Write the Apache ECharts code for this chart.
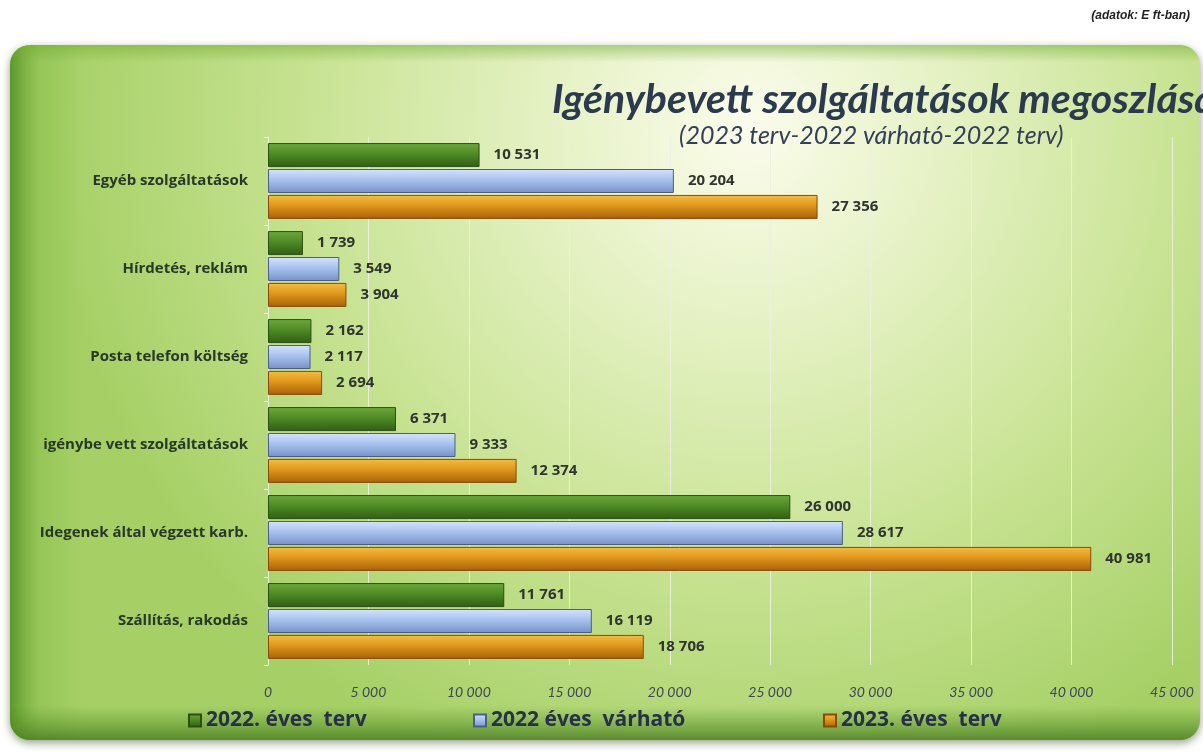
<!DOCTYPE html>
<html>
<head>
<meta charset="utf-8">
<script src="https://cdn.jsdelivr.net/npm/echarts@6/dist/echarts.min.js"></script>
<style>
    html, body { margin: 0; padding: 0; background: #fff; }
    #chart { width: 1203px; height: 755px; }
</style>
</head>
<body>
<div id="chart"></div>
<script>
    // kategóriák felülről lefelé
    var categories = ['Egyéb szolgáltatások', 'Hírdetés, reklám', 'Posta telefon költség',
        'igénybe vett szolgáltatások', 'Idegenek által végzett karb.', 'Szállítás, rakodás'];
    var seriesNames = ['2022. éves  terv', '2022 éves  várható', '2023. éves  terv'];
    var terv2022 = [10531, 1739, 2162, 6371, 26000, 11761];
    var varhato2022 = [20204, 3549, 2117, 9333, 28617, 16119];
    var terv2023 = [27356, 3904, 2694, 12374, 40981, 18706];
    var xTicks = [0, 5000, 10000, 15000, 20000, 25000, 30000, 35000, 40000, 45000];

    function fmt(v) {
        return String(v).replace(/\B(?=(\d{3})+(?!\d))/g, ' ');
    }

    function grad(c1, c2, c3) {
        return new echarts.graphic.LinearGradient(0, 0, 0, 1, [
            {offset: 0, color: c1}, {offset: 0.45, color: c2}, {offset: 1, color: c3}
        ]);
    }

    var myChart = echarts.init(document.getElementById('chart'));

    var labelStyle = {
        show: true,
        position: 'right',
        distance: 14,
        color: '#2f3430',
        fontFamily: 'Open Sans',
        fontWeight: 'bold',
        fontSize: 15,
        formatter: function (p) { return fmt(p.value); }
    };

    var legendText = {fontFamily: 'Open Sans', fontWeight: 'bold', fontSize: 21, color: '#26304a'};
    var legendPos = [183, 468, 818];

    var panel = {x: 10, y: 45, width: 1190, height: 695, r: 20};

    var option = {
        textStyle: {fontFamily: 'Lato'},
        graphic: [{
            type: 'rect',
            z: -10,
            shape: panel,
            style: {
                fill: new echarts.graphic.RadialGradient(0.62, 0.12, 1.0, [
                    {offset: 0, color: '#fbfcec'},
                    {offset: 0.3, color: '#e4f1c2'},
                    {offset: 0.65, color: '#c6e290'},
                    {offset: 1, color: '#a6d066'}
                ]),
                shadowBlur: 8,
                shadowColor: 'rgba(40,70,10,0.5)',
                shadowOffsetY: 3
            }
        }, {
            // bal oldali sötétebb sáv
            type: 'rect',
            z: -9,
            shape: panel,
            style: {
                fill: new echarts.graphic.LinearGradient(0, 0, 1, 0, [
                    {offset: 0, color: 'rgba(80,140,30,0.85)'},
                    {offset: 0.025, color: 'rgba(120,180,60,0.35)'},
                    {offset: 0.06, color: 'rgba(120,180,60,0)'},
                    {offset: 1, color: 'rgba(120,180,60,0)'}
                ])
            }
        }, {
            // alsó és felső él
            type: 'rect',
            z: -9,
            shape: panel,
            style: {
                fill: new echarts.graphic.LinearGradient(0, 0, 0, 1, [
                    {offset: 0, color: 'rgba(110,170,50,0.5)'},
                    {offset: 0.025, color: 'rgba(110,170,50,0)'},
                    {offset: 0.95, color: 'rgba(90,150,40,0)'},
                    {offset: 1, color: 'rgba(70,120,30,0.8)'}
                ])
            }
        }],
        title: [{
            text: '(adatok: E ft-ban)',
            right: 8, top: 5,
            textStyle: {fontFamily: 'Liberation Sans', fontStyle: 'italic', fontWeight: 'bold', fontSize: 12, color: '#222'}
        }, {
            text: 'Igénybevett szolgáltatások megoszlása',
            left: 547, top: 74,
            textStyle: {fontFamily: 'Lato', fontStyle: 'italic', fontWeight: 'bold', fontSize: 41, color: '#2c3a50'}
        }, {
            text: '(2023 terv-2022 várható-2022 terv)',
            left: 674, top: 118,
            textStyle: {fontFamily: 'Lato', fontStyle: 'italic', fontWeight: 'normal', fontSize: 25, color: '#34405a'}
        }],
        legend: seriesNames.map(function (n, i) {
            return {
                data: [n],
                left: legendPos[i],
                top: 705,
                itemWidth: 12,
                itemHeight: 12,
                icon: 'rect',
                textStyle: legendText
            };
        }),
        grid: {
            left: 268,
            right: 31,
            top: 137,
            bottom: 90
        },
        xAxis: {
            type: 'value',
            min: 0,
            max: 45000,
            interval: 5000,
            axisLine: {show: false},
            axisTick: {show: false},
            splitLine: {lineStyle: {color: 'rgba(235,240,225,0.9)', width: 1}},
            axisLabel: {
                margin: 20,
                fontFamily: 'Lato',
                fontStyle: 'italic',
                fontSize: 14,
                color: '#3e4658',
                formatter: function (v) { return xTicks.indexOf(v) >= 0 ? fmt(v) : ''; }
            }
        },
        yAxis: {
            type: 'category',
            inverse: true,
            data: categories,
            axisLine: {show: true, lineStyle: {color: '#e8f0d8', width: 1}},
            axisTick: {show: true, length: 4, lineStyle: {color: '#f4f8ea'}},
            axisLabel: {
                margin: 20,
                fontFamily: 'Open Sans',
                fontWeight: 'bold',
                fontSize: 15,
                color: '#283828'
            }
        },
        series: [{
            name: seriesNames[0],
            type: 'bar',
            data: terv2022,
            barWidth: 24,
            barGap: '8%',
            itemStyle: {
                color: grad('#6ea83c', '#4f8a24', '#2f5e14'),
                borderColor: '#2a4f12', borderWidth: 1
            },
            label: labelStyle
        }, {
            name: seriesNames[1],
            type: 'bar',
            data: varhato2022,
            barWidth: 24,
            barGap: '8%',
            itemStyle: {
                color: grad('#d6e4fa', '#a8c2ee', '#7690c8'),
                borderColor: '#4a5e8a', borderWidth: 1
            },
            label: labelStyle
        }, {
            name: seriesNames[2],
            type: 'bar',
            data: terv2023,
            barWidth: 24,
            barGap: '8%',
            itemStyle: {
                color: grad('#f2be4a', '#e0961a', '#a8600a'),
                borderColor: '#8a4a08', borderWidth: 1
            },
            label: labelStyle
        }]
    };
    // legend ikonok színe
    option.series[0].color = '#3f7a22';
    option.series[1].color = '#9fb8e8';
    option.series[2].color = '#d8901c';

    myChart.setOption(option);
</script>
</body>
</html>
